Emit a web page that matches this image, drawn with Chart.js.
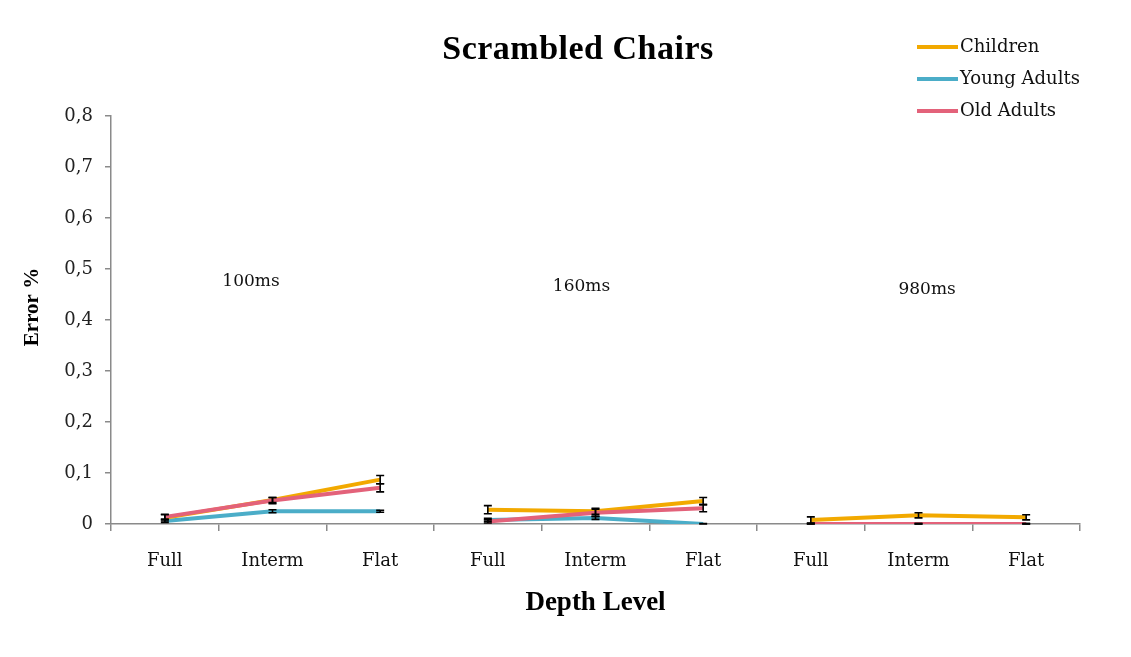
<!DOCTYPE html>
<html>
<head>
<meta charset="utf-8">
<script src="https://cdn.jsdelivr.net/npm/chart.js@4"></script>
<style>
  html, body { margin: 0; padding: 0; background: #fff; }
  #wrap { width: 1131px; height: 657px; }
</style>
</head>
<body>
<div id="wrap"><canvas id="chart"></canvas></div>
<script>
// data
const categories = ['Full', 'Interm', 'Flat', 'Full', 'Interm', 'Flat', 'Full', 'Interm', 'Flat'];
const periods = ['100ms', '160ms', '980ms'];

const children = [0.012, 0.047, 0.087, 0.028, 0.025, 0.045, 0.008, 0.017, 0.013];
const youngAdults = [0.006, 0.025, 0.025, 0.008, 0.012, 0.0, 0.0, 0.0, 0.0];
const oldAdults = [0.014, 0.046, 0.071, 0.005, 0.022, 0.031, 0.0, 0.0, 0.0];

const childrenErr = [0.006, 0.005, 0.008, 0.008, 0.006, 0.007, 0.006, 0.005, 0.005];
const youngErr = [0.003, 0.003, 0.002, 0.003, 0.003, 0.001, 0.001, 0.001, 0.001];
const oldErr = [0.005, 0.006, 0.008, 0.003, 0.007, 0.007, 0.001, 0.001, 0.001];

const yTicks = [0, 0.1, 0.2, 0.3, 0.4, 0.5, 0.6, 0.7, 0.8];

const serif = "'Liberation Serif', 'Times New Roman', serif";
const slab = "'DejaVu Serif', serif";

// no line between the three time blocks
const blockGap = ctx => (ctx.p0DataIndex % 3 === 2 ? 'rgba(0,0,0,0)' : undefined);

function series(label, data, err, color, order) {
    return {
        label: label,
        data: data,
        err: err,
        borderColor: color,
        backgroundColor: color,
        borderWidth: 4,
        pointRadius: 0,
        tension: 0,
        order: order,
        segment: { borderColor: blockGap }
    };
}

// titles, legend, block labels and error bars
const extras = {
    id: 'extras',
    afterDatasetsDraw(chart) {
        const ctx = chart.ctx;
        const y = chart.scales.y;

        ctx.save();
        ctx.strokeStyle = '#000';
        ctx.lineWidth = 1.6;
        chart.data.datasets.forEach((ds, i) => {
            const meta = chart.getDatasetMeta(i);
            meta.data.forEach((pt, j) => {
                const e = ds.err[j];
                const top = y.getPixelForValue(ds.data[j] + e);
                const bot = y.getPixelForValue(Math.max(0, ds.data[j] - e));
                ctx.beginPath();
                ctx.moveTo(pt.x, top); ctx.lineTo(pt.x, bot);
                ctx.moveTo(pt.x - 4, top); ctx.lineTo(pt.x + 4, top);
                ctx.moveTo(pt.x - 4, bot); ctx.lineTo(pt.x + 4, bot);
                ctx.stroke();
            });
        });
        ctx.restore();
    },
    afterDraw(chart) {
        const ctx = chart.ctx;
        const x = chart.scales.x;
        const y = chart.scales.y;
        ctx.save();

        // title
        ctx.fillStyle = '#000';
        ctx.font = 'bold 34px ' + serif;
        ctx.textAlign = 'center';
        ctx.textBaseline = 'middle';
        ctx.letterSpacing = '0.5px';
        ctx.fillText('Scrambled Chairs', 578, 50);
        ctx.letterSpacing = '0px';

        // y axis title
        ctx.save();
        ctx.translate(33, 307);
        ctx.rotate(-Math.PI / 2);
        ctx.font = 'bold 21px ' + serif;
        ctx.fillText('Error %', 0, 0);
        ctx.restore();

        // block labels
        ctx.font = '17px ' + slab;
        ctx.fillStyle = '#111';
        const spots = [[0.8, 0.475], [3.87, 0.466], [7.08, 0.459]];
        periods.forEach((p, i) => {
            ctx.fillText(p, x.getPixelForValue(spots[i][0]), y.getPixelForValue(spots[i][1]));
        });

        // legend
        ctx.textAlign = 'left';
        ctx.font = '18px ' + slab;
        const rows = [47, 79, 111];
        chart.data.datasets.forEach((ds, i) => {
            ctx.strokeStyle = ds.borderColor;
            ctx.lineWidth = 4;
            ctx.beginPath();
            ctx.moveTo(917, rows[i]);
            ctx.lineTo(958, rows[i]);
            ctx.stroke();
            ctx.fillStyle = '#111';
            ctx.fillText(ds.label, 960, rows[i]);
        });
        ctx.restore();
    }
};

new Chart(document.querySelector('#chart'), {
    type: 'line',
    data: {
        labels: categories,
        datasets: [
            series('Children', children, childrenErr, '#F2A900', 1),
            series('Young Adults', youngAdults, youngErr, '#4BADC8', 2),
            series('Old Adults', oldAdults, oldErr, '#E3627A', 0)
        ]
    },
    options: {
        responsive: true,
        maintainAspectRatio: false,
        animation: false,
        layout: { padding: { top: 116, right: 51, bottom: 0, left: 0 } },
        plugins: {
            legend: { display: false },
            tooltip: { enabled: false }
        },
        scales: {
            x: {
                offset: true,
                border: { color: '#8a8a8a', width: 1.5 },
                grid: { offset: true, drawOnChartArea: false, drawTicks: true, tickLength: 7, color: '#8a8a8a', lineWidth: 1.5 },
                ticks: { color: '#111', font: { family: slab, size: 18 }, padding: 20, maxRotation: 0, autoSkip: false },
                title: { display: true, text: 'Depth Level', color: '#000', font: { family: serif, size: 27, weight: 'bold' }, padding: { top: 0, bottom: 38 } },
                afterFit(scale) { scale.height = 657 - 524; }
            },
            y: {
                min: 0,
                max: 0.8,
                afterBuildTicks(scale) { scale.ticks = yTicks.map(v => ({ value: v })); },
                border: { color: '#8a8a8a', width: 1.5 },
                grid: { drawOnChartArea: false, drawTicks: true, tickLength: 6, color: '#8a8a8a', lineWidth: 1.5 },
                ticks: {
                    color: '#222',
                    font: { family: slab, size: 18 },
                    padding: 12,
                    callback: v => (v === 0 ? '0' : v.toFixed(1).replace('.', ','))
                },
                afterFit(scale) { scale.width = 111; }
            }
        }
    },
    plugins: [extras]
});
</script>
</body>
</html>
